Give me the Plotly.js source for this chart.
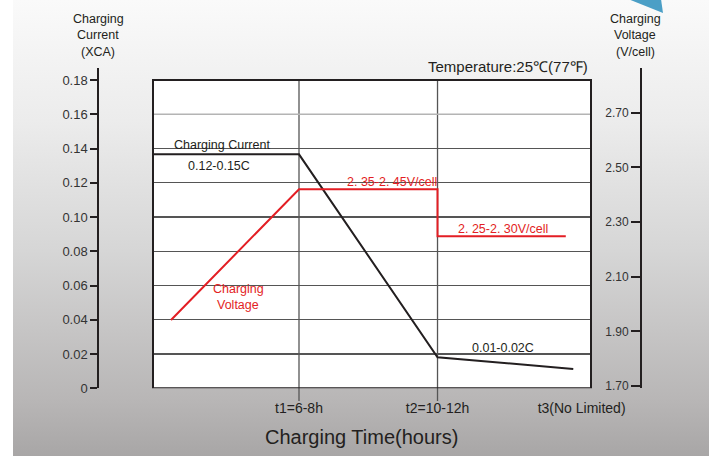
<!DOCTYPE html>
<html>
<head>
<meta charset="utf-8">
<script src="https://cdn.plot.ly/plotly-3.0.1.min.js"></script>
<style>
  html, body { margin: 0; padding: 0; background: #ffffff; }
  #wrap { position: relative; width: 709px; height: 456px; overflow: hidden; background: #ffffff; }
  #bg { position: absolute; left: 13px; top: 0; width: 696px; height: 456px;
        background: linear-gradient(to bottom, #fafafa 0px, #ececec 120px, #d6d6d6 250px, #b8b6b6 400px, #a8a6a6 456px); }
  #chart { position: absolute; left: 0; top: 0; width: 709px; height: 456px; }
</style>
</head>
<body>
<div id="wrap"><div id="bg"></div><div id="chart"></div></div>
<script>
// ---- data ----
var timeTickVals = [1, 2, 3.04];
var timeTickText = ['t1=6-8h', 't2=10-12h', 't3(No Limited)'];
var currentX = [-0.054, 1, 2, 2.98];
var currentY = [0.1366, 0.1366, 0.0181, 0.0113];
var voltageX = [0.076, 1, 2, 2, 2.926];
var voltageY = [1.9415, 2.42, 2.42, 2.248, 2.248];
var currentTicks = [0, 0.02, 0.04, 0.06, 0.08, 0.10, 0.12, 0.14, 0.16, 0.18];
var currentTickText = ['0', '0.02', '0.04', '0.06', '0.08', '0.10', '0.12', '0.14', '0.16', '0.18'];
var voltageTicks = [1.70, 1.90, 2.10, 2.30, 2.50, 2.70];
var voltageTickText = ['1.70', '1.90', '2.10', '2.30', '2.50', '2.70'];
var phaseBoundaries = [1, 2];
var currentBoxTop = 0.18;
var lightGridLevel = 0.16;

var W = 709, H = 456;
function px(x) { return x / W; }
function py(y) { return 1 - y / H; }

var FONT = '"Liberation Sans", Arial, sans-serif';
var DARK = '#231f20';
var RED = '#e31e24';
var GRID = '#555555';

var traces = [
  { x: currentX, y: currentY, xaxis: 'x', yaxis: 'y', mode: 'lines',
    line: { color: DARK, width: 2 }, hoverinfo: 'skip', showlegend: false },
  { x: voltageX, y: voltageY, xaxis: 'x', yaxis: 'y2', mode: 'lines',
    line: { color: RED, width: 2 }, hoverinfo: 'skip', showlegend: false }
];

var shapes = [
  { type: 'rect', layer: 'below', xref: 'x domain', yref: 'y', x0: 0, x1: 1, y0: 0, y1: currentBoxTop,
    fillcolor: '#ffffff', line: { width: 0 } }
];
phaseBoundaries.forEach(function (b) {
  shapes.push({ type: 'line', layer: 'below', xref: 'x', yref: 'paper', x0: b, x1: b,
    y0: py(401), y1: py(80), line: { color: GRID, width: 1.3 } });
});
shapes.push({ type: 'line', layer: 'above', xref: 'x domain', yref: 'y', x0: 0, x1: 1,
  y0: lightGridLevel, y1: lightGridLevel, line: { color: '#b4b4b4', width: 1.3 } });
shapes.push({ type: 'rect', layer: 'above', xref: 'x domain', yref: 'y', x0: 0, x1: 1, y0: 0, y1: currentBoxTop,
  fillcolor: 'rgba(0,0,0,0)', line: { color: DARK, width: 2 } });
// decorative blue corner mark
shapes.push({ type: 'path', layer: 'above', xref: 'paper', yref: 'paper',
  path: 'M ' + px(628) + ',' + py(-1) + ' L ' + px(661) + ',' + py(-1) + ' L ' + px(663) + ',' + py(13) + ' Z',
  fillcolor: '#4b9fc6', line: { width: 0 } });

function ann(text, x, y, opts) {
  var o = { text: text, x: px(x), y: py(y), xref: 'paper', yref: 'paper', showarrow: false,
    xanchor: 'center', yanchor: 'middle', font: { family: FONT, size: 12.5, color: DARK } };
  if (opts) { for (var k in opts) o[k] = opts[k]; }
  return o;
}
var redFont = { family: FONT, size: 12.5, color: RED };

var annotations = [
  ann('Charging', 98, 19), ann('Current', 98, 35), ann('(XCA)', 98, 52),
  ann('Charging', 635, 19), ann('Voltage', 635, 35), ann('(V/cell)', 635, 52),
  ann('Temperature:25℃(77℉)', 590, 67, { xanchor: 'right', font: { family: FONT, size: 15, color: DARK } }),
  ann('Charging Current', 221.5, 145),
  ann('0.12-0.15C', 219, 166),
  ann('2. 35-2. 45V/cell', 392, 182, { font: redFont }),
  ann('2. 25-2. 30V/cell', 502.5, 229, { font: redFont }),
  ann('Charging', 238.5, 289, { font: redFont }),
  ann('Voltage', 238, 305, { font: redFont }),
  ann('0.01-0.02C', 503, 348),
  ann('Charging Time(hours)', 361, 437, { font: { family: FONT, size: 20, color: DARK } })
];

var layout = {
  width: W, height: H,
  margin: { l: 0, r: 0, t: 0, b: 0, pad: 0 },
  paper_bgcolor: 'rgba(0,0,0,0)',
  plot_bgcolor: 'rgba(0,0,0,0)',
  showlegend: false,
  xaxis: {
    domain: [px(153), px(591)], range: [-0.054, 3.108], anchor: 'y',
    showgrid: false, zeroline: false, showline: false,
    tickmode: 'array', tickvals: timeTickVals, ticktext: timeTickText,
    ticks: 'outside', ticklen: 7, tickcolor: 'rgba(0,0,0,0)',
    tickfont: { family: FONT, size: 14, color: DARK }, fixedrange: true
  },
  yaxis: {
    domain: [py(388.3), py(68)], range: [0, 0.187], anchor: 'free', position: px(98.3),
    side: 'left', showline: true, linecolor: DARK, linewidth: 2,
    ticks: 'outside', ticklen: 7, tickwidth: 2, tickcolor: DARK,
    tickmode: 'array', tickvals: currentTicks, ticktext: currentTickText,
    showgrid: true, gridcolor: GRID, gridwidth: 1.3, zeroline: false,
    tickfont: { family: FONT, size: 13, color: '#333333' }, fixedrange: true
  },
  yaxis2: {
    domain: [py(388.3), py(68)], range: [1.6916, 2.8636], anchor: 'free', position: px(641),
    overlaying: 'y', side: 'left', showline: true, linecolor: DARK, linewidth: 2,
    ticks: 'outside', ticklen: 9, tickwidth: 2, tickcolor: DARK,
    tickmode: 'array', tickvals: voltageTicks, ticktext: voltageTickText,
    showgrid: false, zeroline: false,
    tickfont: { family: FONT, size: 12, color: '#333333' }, fixedrange: true
  },
  shapes: shapes,
  annotations: annotations
};

Plotly.newPlot('chart', traces, layout, { displayModeBar: false, staticPlot: true });
</script>
</body>
</html>
